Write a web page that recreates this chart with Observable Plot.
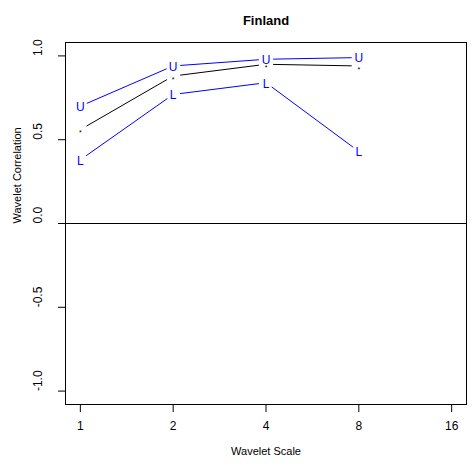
<!DOCTYPE html>
<html>
<head>
<meta charset="utf-8">
<script src="https://cdn.jsdelivr.net/npm/d3@7"></script>
<script src="https://cdn.jsdelivr.net/npm/@observablehq/plot@0.6"></script>
<style>
  body { margin: 0; background: #fff; }
</style>
</head>
<body>
<div id="chart"></div>
<script>
const title = "Finland";
const xLabel = "Wavelet Scale";
const yLabel = "Wavelet Correlation";
const scales = [1, 2, 4, 8];
const estimate = [0.56, 0.88, 0.95, 0.94];
const upper = [0.70, 0.94, 0.98, 0.99];
const lower = [0.38, 0.77, 0.84, 0.43];
const xTicks = [1, 2, 4, 8, 16];
const yTicks = [-1, -0.5, 0, 0.5, 1];

function points(vals, label) {
  return scales.map((s, i) => ({x: s, y: vals[i], label}));
}
function segments(vals) {
  const out = [];
  for (let i = 0; i < scales.length - 1; i++) {
    out.push({x1: scales[i], y1: vals[i], x2: scales[i + 1], y2: vals[i + 1]});
  }
  return out;
}
const blue = "#0000FF";

const chart = Plot.plot({
  width: 475,
  height: 466,
  marginLeft: 65,
  marginRight: 9,
  marginTop: 42,
  marginBottom: 62,
  style: {fontFamily: "'Liberation Sans', Arial, sans-serif", fontSize: "12px", background: "#fff"},
  x: {type: "log", base: 2, domain: [Math.pow(2, -0.16), Math.pow(2, 4.16)]},
  y: {domain: [-1.08, 1.08]},
  marks: [
    Plot.ruleY([0], {stroke: "black", strokeWidth: 1}),
    Plot.arrow(segments(upper), {x1: "x1", y1: "y1", x2: "x2", y2: "y2", stroke: blue, strokeWidth: 1, headLength: 0, inset: 7.5}),
    Plot.arrow(segments(estimate), {x1: "x1", y1: "y1", x2: "x2", y2: "y2", stroke: "black", strokeWidth: 1, headLength: 0, inset: 7.5}),
    Plot.arrow(segments(lower), {x1: "x1", y1: "y1", x2: "x2", y2: "y2", stroke: blue, strokeWidth: 1, headLength: 0, inset: 7.5}),
    Plot.text(points(upper, "U"), {x: "x", y: "y", text: "label", fill: blue, fontSize: 12, dy: 1}),
    Plot.text(points(lower, "L"), {x: "x", y: "y", text: "label", fill: blue, fontSize: 12, dy: 1}),
    Plot.text(points(estimate, "*"), {x: "x", y: "y", text: "label", fill: "black", fontSize: 7, dy: 3.5}),
    Plot.frame({stroke: "black", strokeWidth: 1}),
    Plot.axisX({ticks: xTicks, tickSize: 8, tickPadding: 9, tickFormat: d => String(d), label: null, fontSize: 12}),
    Plot.axisY({ticks: yTicks, tickSize: 7, tickFormat: () => "", label: null}),
    Plot.text(yTicks, {y: d => d, text: d => d.toFixed(1), frameAnchor: "left", dx: -27, rotate: -90, fontSize: 12}),
    Plot.text([xLabel], {frameAnchor: "bottom", dy: 50, fontSize: 11}),
    Plot.text([yLabel], {frameAnchor: "left", dx: -48, rotate: -90, fontSize: 11}),
    Plot.text([title], {frameAnchor: "top", dy: -27, fontSize: 13, fontWeight: "bold"})
  ]
});
document.getElementById("chart").appendChild(chart);
</script>
</body>
</html>
